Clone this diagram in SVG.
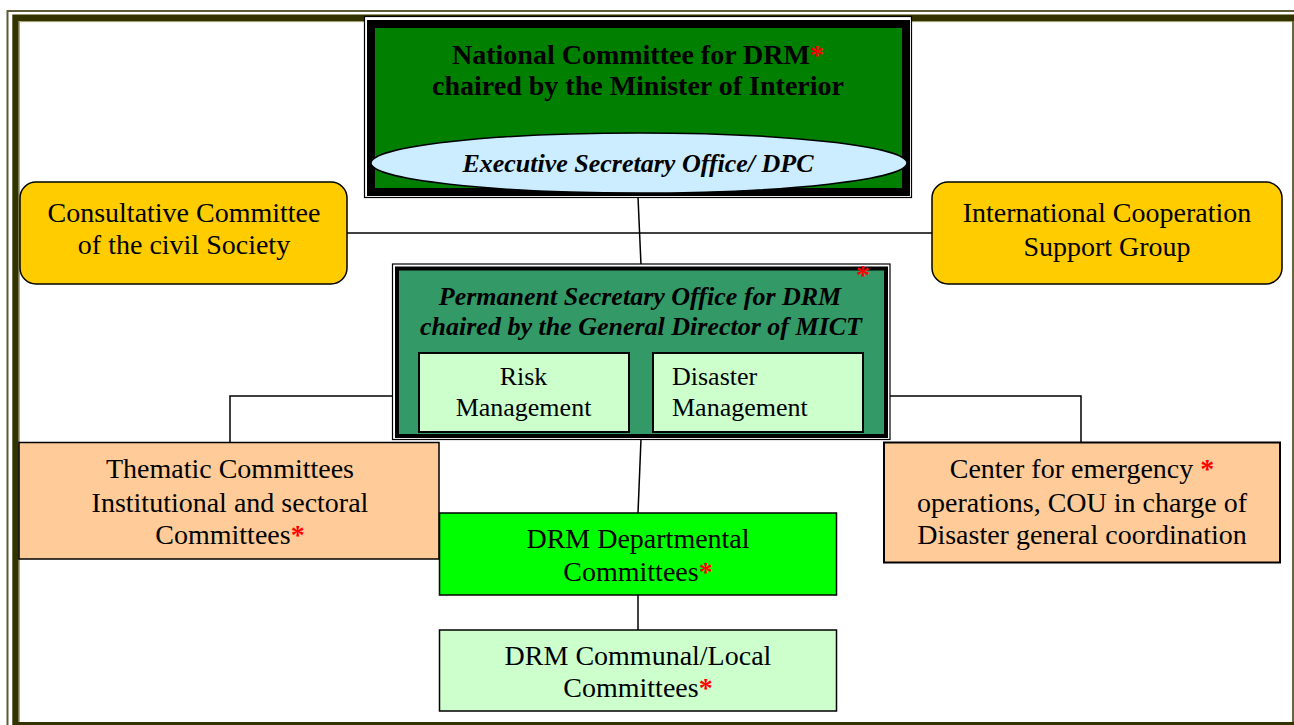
<svg xmlns="http://www.w3.org/2000/svg" width="1294" height="725" viewBox="0 0 1294 725">
<style>
.t{font-family:"Liberation Serif","Times New Roman",serif;font-size:28px;fill:#000;text-anchor:middle}
.s{font-size:26px}
.b{font-weight:bold}
.i{font-style:italic}
.r{fill:#FF0000;font-weight:bold}
.ln{stroke:#000;stroke-width:1.5;fill:none}
.bx{stroke:#000;stroke-width:1.5}
</style>
<rect x="0" y="0" width="1294" height="725" fill="#FFFFFF"/>
<g id="frame" fill="none">
<path d="M7.5 725 V11 H1294" stroke="#5c5c3a" stroke-width="2"/>
<path d="M15.5 725 V17.8 H1294" stroke="#333300" stroke-width="6.4"/>
<path d="M19.3 725 V21.6 H1292" stroke="#999966" stroke-width="1"/>
<path d="M1293 21 V725" stroke="#333300" stroke-width="1.5"/>
<path d="M15 723.5 H1294" stroke="#333300" stroke-width="3"/>
</g>
<g id="connectors">
<path class="ln" d="M638 197 L641 265"/>
<path class="ln" d="M347 233 H932"/>
<path class="ln" d="M230 443 V396 H1081 V443"/>
<path class="ln" d="M641 439 L638 513"/>
<path class="ln" d="M638 595 V630"/>
</g>
<g id="national">
<rect x="364.5" y="16.5" width="547" height="181" fill="#FFFFFF" stroke="#000" stroke-width="1.2"/>
<rect x="371" y="24" width="535" height="168" fill="#007F00" stroke="#000" stroke-width="8"/>
<text class="t b" x="638" y="64">National Committee for DRM<tspan class="r">*</tspan></text>
<text class="t b" x="638" y="95">chaired by the Minister of Interior</text>
<ellipse cx="639" cy="163" rx="268" ry="30" fill="#CCECFF" stroke="#000" stroke-width="1.5"/>
<text class="t s b i" x="638" y="172">Executive Secretary Office/ DPC</text>
</g>
<g id="consultative">
<rect class="bx" x="20" y="182" width="327" height="102" rx="16" fill="#FFCC00"/>
<text class="t" x="184" y="222">Consultative Committee</text>
<text class="t" x="184" y="254">of the civil Society</text>
</g>
<g id="international">
<rect class="bx" x="932" y="182" width="350" height="102" rx="16" fill="#FFCC00"/>
<text class="t" x="1107" y="222">International Cooperation</text>
<text class="t" x="1107" y="256">Support Group</text>
</g>
<g id="permanent">
<rect x="392.5" y="264" width="497.5" height="175.5" fill="#FFFFFF" stroke="#000" stroke-width="1.2"/>
<rect x="397" y="268.5" width="489" height="167.5" fill="#339966" stroke="#000" stroke-width="4"/>
<text class="t s b i" x="640" y="305">Permanent Secretary Office for DRM</text>
<text class="t s b i" x="641" y="335">chaired by the General Director of MICT</text>
<text class="t r" x="863" y="284">*</text>
</g>
<g id="risk">
<rect x="419" y="353" width="210" height="79" fill="#CCFFCC" stroke="#000" stroke-width="2"/>
<text class="t s" x="523.5" y="385">Risk</text>
<text class="t s" x="523.5" y="415.5">Management</text>
</g>
<g id="disaster">
<rect x="653" y="353" width="210" height="79" fill="#CCFFCC" stroke="#000" stroke-width="2"/>
<text class="t s" x="672" y="385" text-anchor="start" style="text-anchor:start">Disaster</text>
<text class="t s" x="672" y="415.5" style="text-anchor:start">Management</text>
</g>
<g id="thematic">
<rect class="bx" x="19" y="442.5" width="420" height="116.5" fill="#FFCC99"/>
<text class="t" x="230" y="477.5">Thematic Committees</text>
<text class="t" x="230" y="511.5">Institutional and sectoral</text>
<text class="t" x="230" y="544">Committees<tspan class="r">*</tspan></text>
</g>
<g id="cou">
<rect x="884" y="442.5" width="396" height="120" fill="#FFCC99" stroke="#000" stroke-width="2"/>
<text class="t" x="1082" y="477.5">Center for emergency <tspan class="r">*</tspan></text>
<text class="t" x="1082" y="511.5">operations, COU in charge of</text>
<text class="t" x="1082" y="544">Disaster general coordination</text>
</g>
<g id="departmental">
<rect class="bx" x="439.5" y="513" width="397" height="82" fill="#00FF00"/>
<text class="t" x="638" y="547.5">DRM Departmental</text>
<text class="t" x="638" y="580.5">Committees<tspan class="r">*</tspan></text>
</g>
<g id="communal">
<rect class="bx" x="439.5" y="630" width="397" height="81" fill="#CCFFCC"/>
<text class="t" x="638" y="665">DRM Communal/Local</text>
<text class="t" x="638" y="697">Committees<tspan class="r">*</tspan></text>
</g>
</svg>
